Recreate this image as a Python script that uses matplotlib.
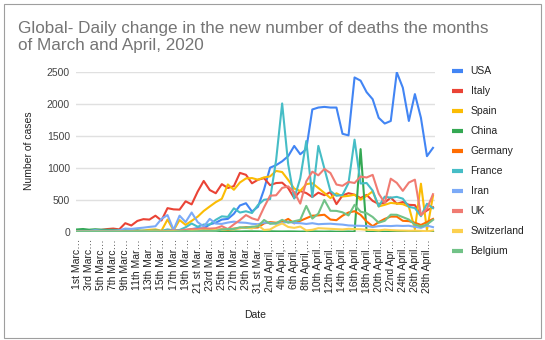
import matplotlib
matplotlib.use("Agg")
import matplotlib.pyplot as plt
from matplotlib.lines import Line2D
from matplotlib.patches import Rectangle

# daily new deaths, 1st March .. 29th April 2020 (60 days)
usa = [0, 0, 1, 5, 1, 4, 1, 3, 2, 1, 4, 3, 8, 7, 10, 8, 12, 18, 23, 41,
       56, 49, 115, 140, 190, 200, 280, 410, 445, 315, 390, 660, 1000, 1040, 1100, 1180, 1340, 1210, 1290, 1910,
       1940, 1950, 1940, 1940, 1530, 1505, 2410, 2360, 2180, 2070, 1780, 1690, 1730, 2490, 2250, 1730, 2150, 1780, 1180, 1310]
italy = [8, 5, 18, 27, 28, 41, 49, 36, 133, 97, 168, 196, 189, 250, 175, 368, 349, 345, 475, 427,
         627, 793, 651, 601, 743, 683, 712, 919, 889, 756, 812, 837, 727, 760, 766, 681, 525, 636, 604, 542,
         610, 570, 619, 431, 566, 602, 578, 525, 575, 482, 433, 454, 534, 437, 464, 420, 415, 260, 333, 382]
spain = [0, 0, 0, 1, 0, 1, 2, 2, 7, 11, 7, 19, 30, 36, 16, 190, 21, 182, 107, 169,
         235, 324, 394, 462, 514, 738, 655, 769, 832, 838, 812, 849, 864, 950, 932, 809, 674, 637, 743, 757,
         683, 605, 525, 600, 550, 560, 577, 500, 560, 630, 395, 420, 450, 440, 430, 390, 40, 750, 25, 560]
china = [35, 42, 31, 38, 31, 30, 28, 27, 22, 17, 22, 11, 7, 13, 10, 14, 13, 11, 8, 3,
         7, 6, 9, 7, 4, 6, 5, 3, 5, 5, 4, 1, 6, 4, 3, 4, 3, 1, 2, 5,
         2, 1, 3, 0, 1, 3, 0, 1290, 1, 0, 0, 0, 0, 0, 0, 0, 0, 0, 0, 0]
germany = [0, 0, 0, 0, 0, 0, 0, 0, 0, 2, 0, 1, 0, 3, 2, 4, 4, 5, 4, 9,
           10, 22, 23, 28, 37, 33, 49, 55, 72, 64, 66, 130, 150, 140, 150, 200, 130, 170, 210, 250,
           255, 265, 190, 180, 250, 300, 320, 263, 160, 85, 150, 200, 236, 236, 170, 165, 140, 105, 150, 200]
france = [0, 1, 1, 0, 3, 2, 1, 0, 9, 11, 3, 15, 13, 18, 12, 36, 21, 27, 69, 128,
          78, 112, 112, 186, 240, 231, 365, 299, 319, 292, 418, 499, 509, 1120, 2004, 1053, 518, 833, 1417, 541,
          1341, 987, 635, 561, 574, 762, 1438, 753, 761, 642, 395, 547, 531, 544, 516, 389, 369, 242, 437, 367]
iran = [11, 12, 11, 23, 15, 15, 16, 21, 49, 43, 54, 63, 75, 85, 200, 260, 30, 250, 150, 300,
        150, 80, 200, 127, 122, 143, 157, 144, 139, 123, 117, 141, 138, 124, 134, 158, 136, 133, 121, 133,
        117, 122, 125, 117, 111, 98, 94, 92, 89, 73, 87, 91, 88, 94, 90, 93, 76, 60, 96, 71]
uk = [0, 0, 0, 0, 0, 1, 0, 1, 0, 2, 1, 2, 0, 1, 10, 14, 20, 16, 32, 41,
      40, 56, 48, 54, 87, 41, 115, 181, 260, 209, 180, 381, 563, 569, 684, 708, 621, 439, 786, 938,
      881, 980, 917, 737, 717, 778, 761, 861, 847, 888, 596, 449, 828, 763, 638, 768, 813, 260, 360, 586]
switzerland = [0, 0, 0, 0, 1, 0, 0, 1, 1, 1, 2, 2, 4, 4, 3, 5, 8, 6, 10, 13,
               15, 20, 16, 28, 30, 40, 35, 61, 60, 50, 100, 27, 35, 90, 130, 74, 60, 80, 20, 30,
               55, 50, 45, 40, 35, 45, 40, 38, 30, 28, 20, 32, 25, 20, 18, 15, 16, 14, 5, 20]
belgium = [0, 0, 0, 0, 0, 0, 0, 0, 0, 0, 0, 3, 0, 0, 1, 0, 1, 5, 10, 4,
           7, 14, 13, 13, 34, 42, 42, 69, 64, 78, 82, 183, 123, 132, 185, 140, 164, 185, 403, 205,
           283, 496, 327, 325, 303, 254, 420, 313, 290, 230, 140, 170, 266, 264, 228, 190, 113, 80, 113, 185]

countries = ["USA", "Italy", "Spain", "China", "Germany", "France", "Iran", "UK", "Switzerland", "Belgium"]
colors = ["#4285F4", "#EA4335", "#FBBC04", "#34A853", "#FF6D01",
          "#46BDC6", "#7BAAF7", "#F07B72", "#FCD04F", "#71C287"]
series = [usa, italy, spain, china, germany, france, iran, uk, switzerland, belgium]

# every second date is labelled, cut short the way the sheet cuts them
tick_labels = ["1st Marc…", "3rd Marc…", "5th Marc…", "7th Marc…", "9th Marc…",
               "11th Mar…", "13th Mar…", "15th Mar…", "17th Mar…", "19th Mar…",
               "21 st Mar…", "23rd Mar…", "25th Mar…", "27th Mar…", "29th Mar…",
               "31 st Mar…", "2nd April,…", "4th April,…", "6th April,…", "8th April,…",
               "10th April…", "12th April…", "14th April…", "16th April…", "18th April…",
               "20th April…", "22nd Apr…", "24th April…", "26th April…", "28th April…"]

plt.rcParams["font.family"] = ["Liberation Sans", "DejaVu Sans"]

W, H = 545, 340
fig = plt.figure(figsize=(W / 100, H / 100), dpi=100)
fig.patch.set_facecolor("white")

def fx(px):
    return px / W

def fy(py):
    return 1 - py / H

# chart frame like the spreadsheet embed
fig.add_artist(Rectangle((fx(4), fy(338)), fx(537), 334 / H, transform=fig.transFigure,
                         fill=False, edgecolor="#9e9e9e", lw=0.8))

left, right, top, bottom = 75.5, 434.5, 71.7, 231.7
ax = fig.add_axes([fx(left), fy(bottom), fx(right - left), (bottom - top) / H])
x = list(range(len(usa)))
for i, (name, vals, c) in enumerate(zip(countries, series, colors)):
    ax.plot(x, vals, color=c, lw=1.5, zorder=3 + i, solid_joinstyle="round")

ax.set_xlim(-0.25, 59.25)
ax.set_ylim(0, 2500)
ax.set_yticks([0, 500, 1000, 1500, 2000, 2500])
ax.grid(axis="y", color="#e0e0e0", lw=1)
ax.axhline(0, color="#333333", lw=0.8, zorder=2)
for s in ax.spines.values():
    s.set_visible(False)
ax.tick_params(axis="y", length=0, labelsize=7.5, labelcolor="#444444", pad=4)
ax.set_xticks(x[::2])
ax.set_xticklabels(tick_labels, rotation=90, fontsize=7.5, color="#222222",
                   va="top", ha="center")
ax.tick_params(axis="x", length=0, pad=5)

fig.text(fx(18.5), fy(33), "Global- Daily change in the new number of deaths the months",
         fontsize=12.3, color="#757575", va="baseline", ha="left")
fig.text(fx(18.5), fy(50), "of March and April, 2020",
         fontsize=12.3, color="#757575", va="baseline", ha="left")
fig.text(fx(29), fy(151), "Number of cases", rotation=90, fontsize=7.5, color="#222222",
         ha="center", va="center")
fig.text(fx(255), fy(315), "Date", fontsize=7.5, color="#222222", ha="center", va="center")

# legend
for i, (name, c) in enumerate(zip(countries, colors)):
    yy = 71 + 20 * i
    fig.add_artist(Line2D([fx(451.5), fx(463)], [fy(yy), fy(yy)], transform=fig.transFigure,
                          color=c, lw=3, solid_capstyle="butt"))
    fig.text(fx(470.5), fy(yy), name, fontsize=7.5, color="#222222", ha="left", va="center")

fig.savefig("out.png", dpi=100)
